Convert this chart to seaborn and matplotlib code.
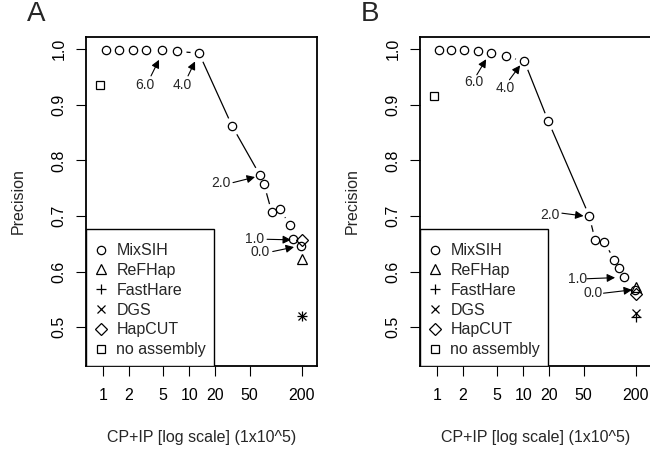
import numpy as np
import pandas as pd
import seaborn as sns
import matplotlib.pyplot as plt
from matplotlib.lines import Line2D
from matplotlib.patches import Rectangle

sns.set_theme(style="ticks")
plt.rcParams["font.family"] = ["Liberation Sans", "DejaVu Sans"]

# --- data ---
# panel A, MixSIH curve
a_mix_x = [1.09, 1.56, 2.22, 3.17, 4.89, 7.3, 13.0, 31.4, 66.2, 73.6, 90.4, 112.8, 147, 160.8, 196]
a_mix_y = [0.999, 0.999, 0.999, 0.999, 0.998, 0.996, 0.993, 0.862, 0.773, 0.757, 0.707, 0.712, 0.683, 0.658, 0.646]
# panel B, MixSIH curve
b_mix_x = [1.05, 1.45, 2.07, 2.98, 4.26, 6.35, 10.35, 19.6, 58.2, 68.3, 86.9, 114, 129, 149, 196]
b_mix_y = [0.999, 0.999, 0.998, 0.997, 0.994, 0.987, 0.978, 0.870, 0.700, 0.656, 0.654, 0.620, 0.607, 0.590, 0.566]

# other methods
methods = ["ReFHap", "FastHare", "DGS", "HapCUT", "no assembly"]
a_other_x = [200, 200, 200, 200, 0.935]
a_other_y = [0.622, 0.520, 0.520, 0.656, 0.935]
b_other_x = [200, 200, 200, 200, 0.94]
b_other_y = [0.572, 0.518, 0.525, 0.560, 0.915]

# threshold labels (text position, arrow tail, arrow tip)
thresholds = ["6.0", "4.0", "2.0", "1.0", "0.0"]
a_text_x = [3.09, 8.28, 23.4, 57.9, 66.2]
a_text_y = [0.936, 0.936, 0.7595, 0.658, 0.636]
a_tail_x = [3.62, 9.71, 32.2, 79.8, 92.8]
a_tail_y = [0.952, 0.952, 0.760, 0.658, 0.636]
a_tip_x = [4.48, 11.7, 57.9, 151, 163.7]
a_tip_y = [0.981, 0.978, 0.770, 0.657, 0.644]

b_text_x = [2.66, 6.24, 20.6, 42.6, 64.2]
b_text_y = [0.941, 0.930, 0.702, 0.587, 0.561]
b_tail_x = [2.91, 6.94, 28.1, 54.7, 85.2]
b_tail_y = [0.954, 0.945, 0.705, 0.587, 0.561]
b_tip_x = [3.73, 9.23, 50.0, 116, 182]
b_tip_y = [0.982, 0.971, 0.700, 0.589, 0.567]

x_ticks = [1, 2, 5, 10, 20, 50, 200]
y_ticks = [0.5, 0.6, 0.7, 0.8, 0.9, 1.0]

markers = {"MixSIH": "o", "ReFHap": "^", "FastHare": "+", "DGS": "x",
           "HapCUT": "D", "no assembly": "s"}
msizes = {"MixSIH": 6, "ReFHap": 7, "FastHare": 7, "DGS": 5.5,
          "HapCUT": 6, "no assembly": 5.5}
FS = 11.5


def draw_panel(ax, mix_x, mix_y, other_x, other_y,
               tx, ty, tlx, tly, tpx, tpy):
    ax.set_xscale("log")
    # R type="b": line with gaps round the points
    sns.lineplot(x=mix_x, y=mix_y, sort=False, estimator=None, color="black",
                 lw=0.9, ax=ax, zorder=1)
    ax.plot(mix_x, mix_y, ls="none", marker="o", ms=13, mfc="white",
            mec="none", zorder=2)
    ax.plot(mix_x, mix_y, ls="none", marker="o", ms=msizes["MixSIH"],
            mfc="none", mec="black", mew=0.9, zorder=3)
    for m, x, y in zip(methods, other_x, other_y):
        ax.plot([x], [y], ls="none", marker=markers[m], ms=msizes[m],
                mfc="none", mec="black", mew=0.9, zorder=3)

    for lab, x, y, x0, y0, x1, y1 in zip(thresholds, tx, ty, tlx, tly, tpx, tpy):
        ax.text(x, y, lab, fontsize=10, ha="center", va="center", zorder=5)
        ax.annotate("", xy=(x1, y1), xytext=(x0, y0), zorder=5,
                    arrowprops=dict(arrowstyle="-|>", color="black", lw=0.8,
                                    mutation_scale=12, shrinkA=0, shrinkB=0))

    ax.set_xlim(0.64, 302)
    ax.set_ylim(0.430, 1.022)
    ax.set_xticks(x_ticks)
    ax.set_xticklabels([str(t) for t in x_ticks])
    ax.minorticks_off()
    ax.set_yticks(y_ticks)
    ax.set_yticklabels([f"{t:.1f}" for t in y_ticks])
    for lab in ax.get_yticklabels():
        lab.set_rotation(90)
        lab.set_va("center")
    ax.tick_params(direction="out", length=7, width=0.8, colors="black",
                   labelsize=FS)
    ax.tick_params(axis="x", pad=9)
    ax.tick_params(axis="y", pad=7)
    for s in ax.spines.values():
        s.set_visible(True)
        s.set_linewidth(1.3)
        s.set_color("black")

    ax.set_xlabel("CP+IP [log scale] (1x10^5)", fontsize=FS)
    ax.set_ylabel("Precision", fontsize=FS)
    ax.xaxis.set_label_coords(0.5, -0.216)
    ax.xaxis.label.set_va("center")
    ax.yaxis.set_label_coords(-0.294, 0.5)
    ax.yaxis.label.set_va("center")
    ax.yaxis.label.set_ha("center")

    # legend box like R's legend()
    ax.add_patch(Rectangle((0, 0), 0.554, 0.4164, transform=ax.transAxes,
                           facecolor="white", edgecolor="black", lw=1.0,
                           zorder=6))
    handles = [Line2D([], [], ls="none", marker=markers[m], ms=msizes[m],
                      mfc="none", mec="black", mew=0.9)
               for m in ["MixSIH"] + methods]
    leg = ax.legend(handles, ["MixSIH"] + methods, loc="lower left",
                    bbox_to_anchor=(0, 0.005), borderaxespad=0, fontsize=FS,
                    frameon=False, handlelength=1.0, handletextpad=0.45,
                    borderpad=0.45, labelspacing=0.3, numpoints=1)
    leg.set_zorder(7)


fig = plt.figure(figsize=(6.5, 4.54), dpi=100)
ax_a = fig.add_axes([86 / 650, 1 - 366 / 454, 231 / 650, 329 / 454])
ax_b = fig.add_axes([420 / 650, 1 - 366 / 454, 231 / 650, 329 / 454])

draw_panel(ax_a, a_mix_x, a_mix_y, a_other_x, a_other_y,
           a_text_x, a_text_y, a_tail_x, a_tail_y, a_tip_x, a_tip_y)
draw_panel(ax_b, b_mix_x, b_mix_y, b_other_x, b_other_y,
           b_text_x, b_text_y, b_tail_x, b_tail_y, b_tip_x, b_tip_y)

fig.text(36 / 650, 1 - 14 / 454, "A", fontsize=20, ha="center", va="center")
fig.text(370 / 650, 1 - 14 / 454, "B", fontsize=20, ha="center", va="center")

fig.savefig("out.png", dpi=100, facecolor="white")
